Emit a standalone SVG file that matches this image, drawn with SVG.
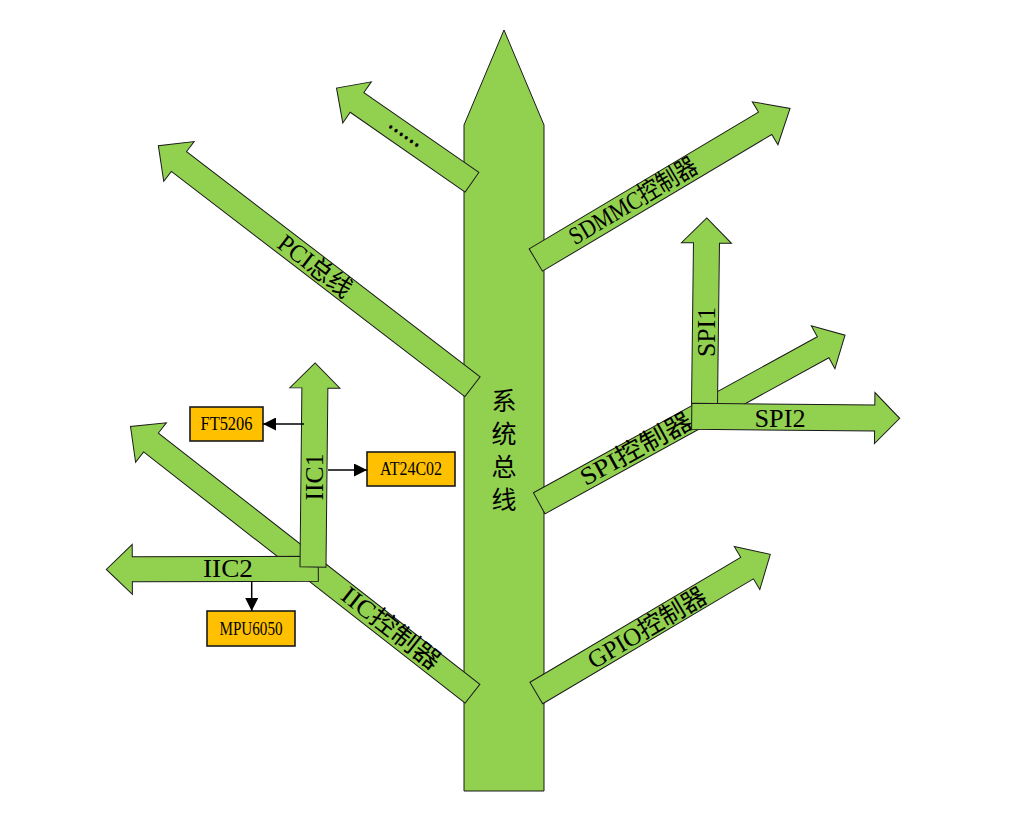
<svg xmlns="http://www.w3.org/2000/svg" width="1014" height="819" viewBox="0 0 1014 819">
<defs>
<style>
.g{fill:#92D050;stroke:#1a1a1a;stroke-width:1}
.b{fill:#FFC000;stroke:#1a1a1a;stroke-width:1.6}
.t{font-family:"Liberation Serif","Noto Sans CJK SC",serif;font-size:25px;fill:#000;text-anchor:middle;dominant-baseline:central}
.bt{font-family:"Liberation Serif",serif;font-size:18px;fill:#000;text-anchor:middle;dominant-baseline:central}
.c{fill:none;stroke:#000;stroke-width:1.5}
</style>
<marker id="ah" viewBox="0 0 10 10" refX="10" refY="5" markerWidth="13" markerHeight="13" markerUnits="userSpaceOnUse" orient="auto">
<path d="M0,0 L10,5 L0,10 Z" fill="#000"/>
</marker>
</defs>
<rect width="1014" height="819" fill="#fff"/>
<g id="trunk">
<polygon class="g" points="464,125 504,30 544,125 544,791 464,791"/>
</g>
<g id="arrow-dots">
<path class="g" transform="translate(472,182.3) rotate(-145.2)" d="M0,-12 H140 V-25 L165,0 L140,25 V12 H0 Z"/>
<text transform="translate(405,134) rotate(35)" x="0" y="4" textLength="38" lengthAdjust="spacingAndGlyphs" style="font-family:'Liberation Serif',serif;font-size:24px;text-anchor:middle;font-weight:bold">……</text>
</g>
<g id="arrow-pci">
<path class="g" transform="translate(472.5,386.7) rotate(-142.5)" d="M0,-12.5 H370 V-25 L396,0 L370,25 V12.5 H0 Z"/>
<text class="t" transform="translate(315,266) rotate(37.5)" textLength="86" lengthAdjust="spacingAndGlyphs">PCI总线</text>
</g>
<g id="arrow-sdmmc">
<path class="g" transform="translate(535.8,260) rotate(-30.8)" d="M0,-13 H267 V-25 L296,0 L267,25 V13 H0 Z"/>
<text class="t" transform="translate(633,201) rotate(-30.8)" textLength="145" lengthAdjust="spacingAndGlyphs">SDMMC控制器</text>
</g>
<g id="arrow-spi">
<path class="g" transform="translate(539.2,503.3) rotate(-28.8)" d="M0,-12 H324 V-24.5 L349,0 L324,24.5 V12 H0 Z"/>
<text class="t" transform="translate(636,449) rotate(-28.8)" textLength="124" lengthAdjust="spacingAndGlyphs">SPI控制器</text>
</g>
<g id="arrow-spi1">
<path class="g" transform="translate(704.5,405) rotate(-89.3)" d="M0,-13 H162 V-25 L187,0 L162,25 V13 H0 Z"/>
<text class="t" transform="translate(706,332) rotate(-90)" textLength="50" lengthAdjust="spacingAndGlyphs">SPI1</text>
</g>
<g id="arrow-spi2">
<path class="g" transform="translate(691.7,416.3) rotate(0.55)" d="M0,-13 H183 V-25.5 L208,0 L183,25.5 V13 H0 Z"/>
<text class="t" x="780" y="418" textLength="51" lengthAdjust="spacingAndGlyphs">SPI2</text>
</g>
<g id="arrow-iic">
<path class="g" transform="translate(472.5,693.7) rotate(-142)" d="M0,-12 H408 V-25 L434,0 L408,25 V12 H0 Z"/>
<text class="t" transform="translate(391,628) rotate(38)" textLength="118" lengthAdjust="spacingAndGlyphs">IIC控制器</text>
</g>
<g id="arrow-iic2">
<path class="g" transform="translate(318.3,568.7) rotate(179.8)" d="M0,-12.5 H186 V-25 L212,0 L186,25 V12.5 H0 Z"/>
<text class="t" x="228" y="568" textLength="50" lengthAdjust="spacingAndGlyphs">IIC2</text>
</g>
<g id="arrow-iic1">
<path class="g" transform="translate(313,567) rotate(-89.4)" d="M0,-13 H179 V-25 L204,0 L179,25 V13 H0 Z"/>
<text class="t" transform="translate(314,477) rotate(-90)" textLength="47" lengthAdjust="spacingAndGlyphs">IIC1</text>
</g>
<g id="arrow-gpio">
<path class="g" transform="translate(536.3,693) rotate(-30.66)" d="M0,-12.5 H245 V-25 L272,0 L245,25 V12.5 H0 Z"/>
<text class="t" transform="translate(647,628) rotate(-30.66)" textLength="134" lengthAdjust="spacingAndGlyphs">GPIO控制器</text>
</g>
<g id="trunk-label">
<text x="504" y="388" writing-mode="vertical-rl" style="font-family:'Noto Sans CJK SC',sans-serif;font-size:25px;letter-spacing:8px">系统总线</text>
</g>
<g id="ft5206">
<rect class="b" x="190" y="407" width="73" height="34"/>
<text class="bt" x="226.5" y="424" textLength="52" lengthAdjust="spacingAndGlyphs">FT5206</text>
</g>
<g id="at24c02">
<rect class="b" x="367" y="452" width="88" height="34"/>
<text class="bt" x="411" y="469" textLength="62" lengthAdjust="spacingAndGlyphs">AT24C02</text>
</g>
<g id="mpu6050">
<rect class="b" x="207" y="611" width="88" height="35"/>
<text class="bt" x="251" y="628.5" textLength="63" lengthAdjust="spacingAndGlyphs">MPU6050</text>
</g>
<g id="connectors">
<line class="c" x1="304" y1="424" x2="263" y2="424" marker-end="url(#ah)"/>
<line class="c" x1="328" y1="470" x2="367" y2="470" marker-end="url(#ah)"/>
<line class="c" x1="251.7" y1="581" x2="251.7" y2="611" marker-end="url(#ah)"/>
</g>
</svg>
